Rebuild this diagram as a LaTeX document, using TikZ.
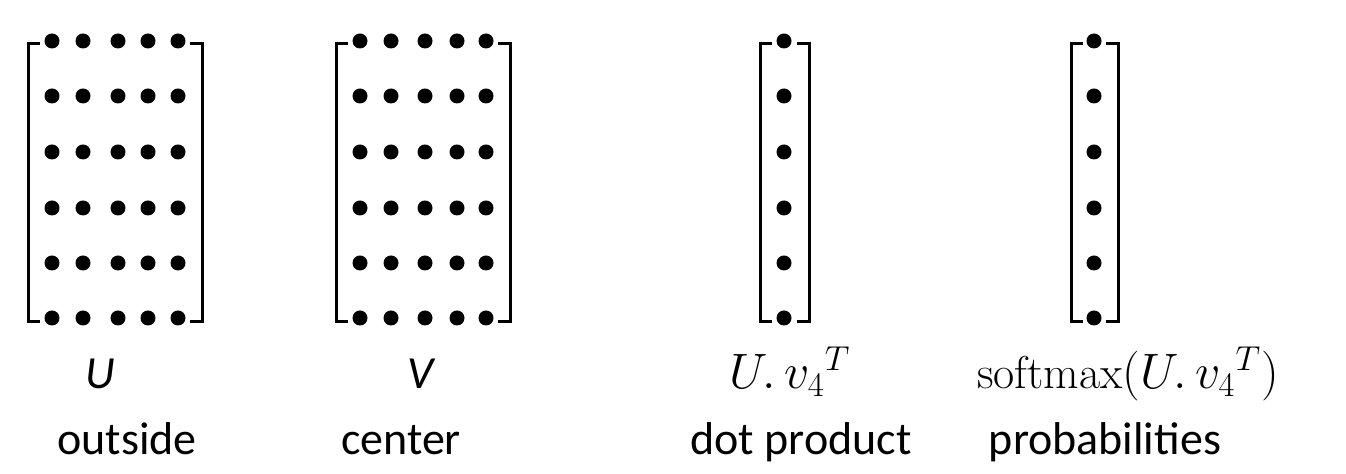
\documentclass[tikz,border=0pt]{standalone}
\usepackage{fontspec}
\setmainfont{Carlito}
\newfontfamily\lmroman{Latin Modern Roman}
\usepackage{amsmath}
\usetikzlibrary{positioning}
\tikzset {
  % one entry of a matrix
  entry/.style = {draw=none, fill=black, circle, inner sep=0pt, minimum size=7.5pt},
  % square brackets
  brak/.style = {line width=1.5pt, line cap=butt, line join=miter},
  % labels under the matrices
  lbl/.style = {anchor=base, inner sep=0pt},
}
\begin{document}
\begin{tikzpicture}[x=0.5pt, y=-0.5pt, font=\fontsize{23}{28}\selectfont]
      \useasboundingbox (0,0) rectangle (1346,474);

      % U and V, 6 x 5
      \foreach \r/\y in {1/41, 2/96, 3/152, 4/208, 5/263, 6/318} {
        \foreach \c/\x in {1/52, 2/83, 3/118, 4/148, 5/178}
          \node[entry] (u-\r-\c) at (\x,\y) {};
        \foreach \c/\x in {1/360, 2/391, 3/425, 4/457, 5/486}
          \node[entry] (v-\r-\c) at (\x,\y) {};
        \node[entry] (d-\r) at (784,\y) {};
        \node[entry] (p-\r) at (1094,\y) {};
      }

      \draw[brak] (40,44) -- (28,44) -- (28,322) -- (40,322);
      \draw[brak] (190,44) -- (202,44) -- (202,322) -- (190,322);
      \draw[brak] (348,44) -- (336,44) -- (336,322) -- (348,322);
      \draw[brak] (498,44) -- (510,44) -- (510,322) -- (498,322);

      \draw[brak] (772,44) -- (760,44) -- (760,322) -- (772,322);
      \draw[brak] (797,44) -- (809,44) -- (809,322) -- (797,322);
      \draw[brak] (1083,44) -- (1071,44) -- (1071,322) -- (1083,322);
      \draw[brak] (1106,44) -- (1118,44) -- (1118,322) -- (1106,322);

      \node[lbl] (Ulab) at (100,389) {\textit{U}};
      \node[lbl] (Vlab) at (422,389) {\textit{V}};
      \node[lbl] (dlab) at (790,389) {$U.\,{v_4}^T$};
      \node[lbl] (plab) at (1128,389) {{\lmroman softmax}$(U.\,{v_4}^T)$};

      \node[lbl] (outside) at (127,455) {outside};
      \node[lbl] (center) at (401,455) {center};
      \node[lbl] (dot) at (801,455) {dot product};
      \node[lbl] (prob) at (1105,455) {probabilities};
    \end{tikzpicture}
\end{document}
